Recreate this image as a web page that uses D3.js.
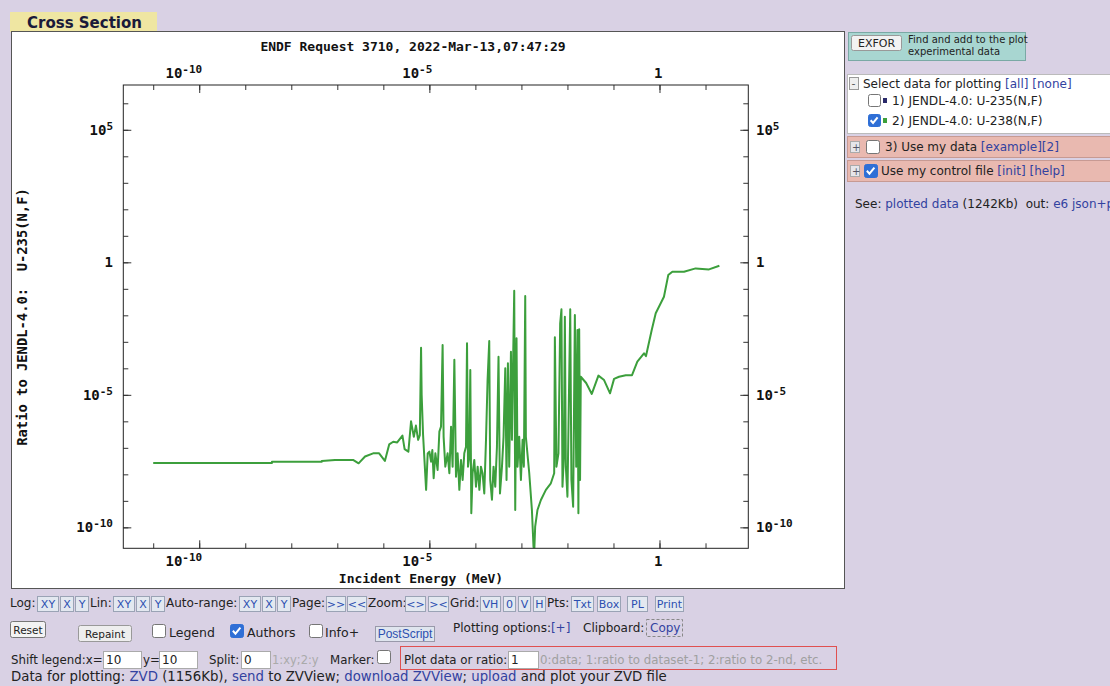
<!DOCTYPE html>
<html>
<head>
<meta charset="utf-8">
<script src="https://cdn.jsdelivr.net/npm/d3@7"></script>
<style>
body { margin: 0; background: #d9d1e4; }
svg { display: block; }
</style>
</head>
<body>
<svg width="1110" height="686"></svg>
<script>
// U-238(n,f) / U-235(n,f) ratio, JENDL-4.0
var energy = [
  1.0e-11, 3.8e-9, 3.8e-9, 4.6e-8, 4.6e-8, 8.9e-8, 2.2e-7, 2.9e-7, 4.0e-7, 6.0e-7,
  8.1e-7, 1.08e-6, 1.34e-6, 1.64e-6, 2.0e-6, 2.6e-6, 2.9e-6, 3.5e-6, 4.0e-6, 4.6e-6,
  5.1e-6, 5.7e-6, 6.2e-6, 6.6e-6, 6.8e-6, 7.3e-6,
  8.5e-6, 9.2e-6, 1.0e-5, 1.09e-5, 1.16e-5, 1.24e-5, 1.35e-5, 1.51e-5, 1.65e-5, 1.79e-5,
  1.94e-5, 2.04e-5, 2.22e-5, 2.49e-5, 2.72e-5, 2.96e-5, 3.2e-5, 3.49e-5, 3.79e-5, 4.11e-5,
  4.48e-5, 4.87e-5, 5.28e-5, 5.74e-5, 6.25e-5, 6.58e-5, 6.91e-5, 7.38e-5, 7.75e-5, 8.15e-5,
  8.7e-5, 9.46e-5, 1.03e-4, 1.12e-4, 1.22e-4, 1.32e-4, 1.43e-4, 1.56e-4, 1.7e-4, 1.84e-4,
  2.0e-4, 2.1e-4, 2.29e-4, 2.48e-4, 2.7e-4, 2.94e-4, 3.18e-4, 3.42e-4, 3.78e-4, 4.09e-4,
  4.46e-4, 4.75e-4, 5.09e-4, 5.43e-4, 5.92e-4, 6.22e-4, 6.64e-4, 6.98e-4, 7.34e-4, 7.83e-4,
  8.22e-4, 8.96e-4, 9.75e-4, 1.06e-3, 1.13e-3, 1.21e-3, 1.25e-3, 1.48e-3, 1.69e-3, 1.83e-3,
  1.9e-3, 1.99e-3, 2.23e-3, 2.65e-3, 3.4e-3, 4.36e-3, 5.15e-3, 5.33e-3, 5.77e-3, 6.38e-3,
  6.95e-3, 7.41e-3, 7.8e-3, 8.36e-3, 8.79e-3, 9.23e-3, 1.0e-2, 1.09e-2, 1.15e-2, 1.22e-2,
  1.33e-2, 1.45e-2, 1.55e-2, 1.65e-2, 1.73e-2, 1.8e-2, 1.88e-2, 1.95e-2, 2.55e-2, 3.38e-2,
  4.71e-2, 6.25e-2, 8.43e-2, 0.103, 0.132, 0.185, 0.253, 0.33, 0.461, 0.509,
  0.678, 0.828, 1.25, 1.55, 1.9, 3.4, 6.1, 11.9, 20
];
var ratio = [
  2.7e-8, 2.7e-8, 3.0e-8, 3.0e-8, 3.2e-8, 3.5e-8, 3.5e-8, 2.6e-8, 4.7e-8, 6.2e-8,
  6.2e-8, 3.2e-8, 1.35e-7, 1.7e-7, 1.6e-7, 2.9e-7, 8.9e-8, 7.2e-8, 1.0e-6, 2.6e-7,
  6.9e-7, 2.0e-7, 3.0e-7, 6.0e-4, 1.0e-5, 3.1e-7,
  2.6e-9, 6.2e-8, 7.2e-8, 3.0e-8, 8.3e-8, 7.1e-9, 6.2e-8, 1.46e-8, 4.1e-7, 6.3e-7,
  7.6e-4, 2.6e-7, 1.95e-8, 6.2e-8, 1.1e-8, 6.3e-7, 1.95e-8, 2.1e-4, 8.2e-9, 6.2e-8,
  2.6e-9, 3.5e-8, 6.1e-9, 6.2e-8, 1.1e-7, 8.8e-4, 1.95e-8, 4.65e-8, 8.7e-5, 3.4e-10,
  1.1e-8, 3.5e-8, 3.4e-9, 1.95e-8, 2.6e-9, 1.95e-8, 1.1e-8, 1.9e-9, 2.0e-7, 3.6e-5,
  1.07e-3, 6.1e-9, 1.1e-9, 1.95e-8, 3.4e-9, 1.1e-7, 2.75e-4, 1.9e-9, 1.95e-8, 2.6e-7,
  1.0e-4, 6.1e-9, 1.55e-4, 1.95e-8, 4.25e-4, 2.0e-7, 3.7e-4, 8.5e-2, 4.5e-10, 1.36e-3,
  1.95e-8, 2.6e-7, 6.1e-9, 2.0e-7, 1.95e-8, 5.4e-2, 2.6e-7, 1.1e-8, 4.5e-10, 1.9e-11,
  1.2e-11, 1.06e-10, 4.5e-10, 1.08e-9, 2.6e-9, 4.6e-9, 1.1e-8, 1.48e-3, 1.95e-8, 6.2e-8,
  5.0e-3, 1.69e-2, 3.4e-9, 4.65e-8, 8.9e-3, 1.95e-8, 1.44e-9, 3.6e-5, 1.69e-2, 6.1e-9,
  6.0e-10, 1.03e-2, 1.95e-8, 2.8e-3, 3.4e-10, 3.0e-3, 6.1e-9, 4.8e-5, 2.8e-5, 1.08e-5,
  5.3e-5, 3.6e-5, 1.14e-5, 4.0e-5, 4.8e-5, 5.5e-5, 5.5e-5, 1.78e-4, 3.7e-4, 2.9e-4,
  2.8e-3, 1.19e-2, 5.0e-2, 0.33, 0.44, 0.44, 0.59, 0.54, 0.74
];

var xDomain = [2.24e-12, 85];
var yDomain = [1.62e-11, 4.9e6];
var xTicks = [1e-11, 1e-10, 1e-9, 1e-8, 1e-7, 1e-6, 1e-5, 1e-4, 1e-3, 1e-2, 1e-1, 1, 10];
var xMajor = [1e-10, 1e-5, 1];
var xMajorLabels = [['10', '-10'], ['10', '-5'], ['1', '']];
var yTicks = [1e-10, 1e-9, 1e-8, 1e-7, 1e-6, 1e-5, 1e-4, 1e-3, 1e-2, 1e-1, 1, 10, 1e2, 1e3, 1e4, 1e5, 1e6];
var yMajor = [1e-10, 1e-5, 1, 1e5];
var yMajorLabels = [['10', '-10'], ['10', '-5'], ['1', ''], ['10', '5']];

var datasets = ['1) JENDL-4.0: U-235(N,F)', '2) JENDL-4.0: U-238(N,F)'];
var datasetColors = ['#2a2a6a', '#3c9f3c'];
var datasetChecked = [false, true];

var svg = d3.select('svg');
var ui = 'DejaVu Sans';
var mono = 'DejaVu Sans Mono';
var linkColor = '#3242a0';
var textColor = '#222';

// ---------- helpers ----------
function txt(x, y, parts, size, family) {
  var t = svg.append('text')
    .attr('x', x)
    .attr('y', y)
    .attr('font-family', family || ui)
    .attr('font-size', size || 11);
  parts.forEach(function (p) {
    if (typeof p === 'string') p = [p, textColor];
    t.append('tspan').attr('fill', p[1]).text(p[0]);
  });
  return t;
}

function button(x, y, w, h, label, opts) {
  opts = opts || {};
  svg.append('rect')
    .attr('x', x + 0.5).attr('y', y + 0.5)
    .attr('width', w).attr('height', h)
    .attr('rx', opts.rx || 0)
    .attr('fill', opts.fill || '#e3e8f0')
    .attr('stroke', opts.stroke || '#9aa3b5');
  svg.append('text')
    .attr('x', x + w / 2 + 0.5)
    .attr('y', y + h / 2 + 4.5)
    .attr('text-anchor', 'middle')
    .attr('font-family', opts.family || ui)
    .attr('font-size', opts.size || 11)
    .attr('fill', opts.color || '#2c4fb0')
    .text(label);
}

function checkbox(x, y, s, checked) {
  svg.append('rect')
    .attr('x', x + 0.5).attr('y', y + 0.5)
    .attr('width', s).attr('height', s)
    .attr('rx', 2)
    .attr('fill', checked ? '#2f6fd6' : '#fff')
    .attr('stroke', checked ? '#2f6fd6' : '#767676');
  if (checked) {
    svg.append('path')
      .attr('d', 'M' + (x + s * 0.22) + ',' + (y + s * 0.52) +
        'L' + (x + s * 0.42) + ',' + (y + s * 0.74) +
        'L' + (x + s * 0.8) + ',' + (y + s * 0.28))
      .attr('fill', 'none')
      .attr('stroke', '#fff')
      .attr('stroke-width', 2);
  }
}

function input(x, y, w, h, value) {
  svg.append('rect')
    .attr('x', x + 0.5).attr('y', y + 0.5)
    .attr('width', w).attr('height', h)
    .attr('fill', '#fff')
    .attr('stroke', '#aaa');
  txt(x + 3, y + h - 4, [value], 12);
}

// ---------- page frame ----------
svg.append('rect').attr('width', 1110).attr('height', 686).attr('fill', '#d9d1e4');
svg.append('rect')
  .attr('x', 10).attr('y', 12).attr('width', 147).attr('height', 20)
  .attr('fill', '#efe6a2');
txt(27, 28, [['Cross Section', '#1a1a3a']], 15).attr('font-weight', 'bold');

svg.append('rect')
  .attr('x', 11.5).attr('y', 31.5).attr('width', 833).attr('height', 557)
  .attr('fill', '#fff')
  .attr('stroke', '#555');

// ---------- chart ----------
var x = d3.scaleLog().domain(xDomain).range([123.3, 748.3]);
var y = d3.scaleLog().domain(yDomain).range([548.3, 85]);

svg.append('clipPath').attr('id', 'plotclip')
  .append('rect')
  .attr('x', x.range()[0]).attr('y', y.range()[1])
  .attr('width', x.range()[1] - x.range()[0])
  .attr('height', y.range()[0] - y.range()[1]);

var points = energy.map(function (e, i) {
  return { e: e, r: ratio[i] };
});
var line = d3.line()
  .x(function (d) { return x(d.e); })
  .y(function (d) { return y(d.r); });

svg.append('path')
  .datum(points)
  .attr('clip-path', 'url(#plotclip)')
  .attr('d', line)
  .attr('fill', 'none')
  .attr('stroke', '#3c9f3c')
  .attr('stroke-width', 2)
  .attr('stroke-linejoin', 'round');

function axisGroup(transform, axis) {
  var g = svg.append('g').attr('transform', transform).call(axis);
  g.select('.domain').remove();
  g.selectAll('line').attr('stroke', '#333');
  return g;
}
var x0 = x.range()[0], x1 = x.range()[1];
var yb = y.range()[0], yt = y.range()[1];
axisGroup('translate(0,' + yb + ')', d3.axisBottom(x).tickValues(xTicks).tickSize(-5).tickFormat(''));
axisGroup('translate(0,' + yb + ')', d3.axisBottom(x).tickValues(xMajor).tickSize(-8).tickFormat(''));
axisGroup('translate(0,' + yt + ')', d3.axisTop(x).tickValues(xTicks).tickSize(-5).tickFormat(''));
axisGroup('translate(0,' + yt + ')', d3.axisTop(x).tickValues(xMajor).tickSize(-8).tickFormat(''));
axisGroup('translate(' + x0 + ',0)', d3.axisLeft(y).tickValues(yTicks).tickSize(-5).tickFormat(''));
axisGroup('translate(' + x0 + ',0)', d3.axisLeft(y).tickValues(yMajor).tickSize(-8).tickFormat(''));
axisGroup('translate(' + x1 + ',0)', d3.axisRight(y).tickValues(yTicks).tickSize(-5).tickFormat(''));
axisGroup('translate(' + x1 + ',0)', d3.axisRight(y).tickValues(yMajor).tickSize(-8).tickFormat(''));

svg.append('rect')
  .attr('x', x0).attr('y', yt)
  .attr('width', x1 - x0).attr('height', yb - yt)
  .attr('fill', 'none')
  .attr('stroke', '#222');

function powLabel(px, py, anchor, lab) {
  var t = svg.append('text')
    .attr('x', px).attr('y', py)
    .attr('text-anchor', anchor)
    .attr('font-family', mono)
    .attr('font-weight', 'bold')
    .attr('font-size', 14)
    .attr('fill', '#111');
  t.append('tspan').text(lab[0]);
  if (lab[1]) {
    t.append('tspan').attr('dy', -5).attr('font-size', 11).text(lab[1]);
  }
}
xMajor.forEach(function (v, i) {
  powLabel(x(v) + 3, 566, 'end', xMajorLabels[i]);
  powLabel(x(v) + 3, 78, 'end', xMajorLabels[i]);
});
yMajor.forEach(function (v, i) {
  powLabel(113, y(v) + 5, 'end', yMajorLabels[i]);
  powLabel(756, y(v) + 5, 'start', yMajorLabels[i]);
});

svg.append('text')
  .attr('x', 413).attr('y', 51)
  .attr('text-anchor', 'middle')
  .attr('font-family', mono).attr('font-weight', 'bold').attr('font-size', 13)
  .attr('fill', '#111')
  .text('ENDF Request 3710, 2022-Mar-13,07:47:29');
svg.append('text')
  .attr('x', 421).attr('y', 583)
  .attr('text-anchor', 'middle')
  .attr('font-family', mono).attr('font-weight', 'bold').attr('font-size', 13)
  .attr('fill', '#111')
  .text('Incident Energy (MeV)');
svg.append('text')
  .attr('transform', 'translate(27,317) rotate(-90)')
  .attr('text-anchor', 'middle')
  .attr('font-family', mono).attr('font-weight', 'bold').attr('font-size', 13.8)
  .attr('fill', '#111')
  .attr('xml:space', 'preserve')
  .text('Ratio to JENDL-4.0:  U-235(N,F)');

// ---------- right panel ----------
svg.append('rect')
  .attr('x', 848.5).attr('y', 32.5).attr('width', 177).attr('height', 28)
  .attr('fill', '#a8d6d1').attr('stroke', '#7aa9a5');
button(851, 35, 50, 15, 'EXFOR', { fill: '#f2f2f2', stroke: '#999', color: '#222', rx: 2 });
txt(908, 43, ['Find and add to the plot'], 10);
txt(908, 55, ['experimental data'], 10);

svg.append('rect')
  .attr('x', 847.5).attr('y', 74.5).attr('width', 270).attr('height', 59)
  .attr('fill', '#fff').attr('stroke', '#bbb');
svg.append('rect')
  .attr('x', 849.5).attr('y', 77.5).attr('width', 9).attr('height', 12)
  .attr('fill', '#eee').attr('stroke', '#999');
txt(851.5, 87, [['-', '#555']], 11);
txt(863, 88, ['Select data for plotting ', ['[all] [none]', linkColor]], 12);
datasets.forEach(function (d, i) {
  var ry = 94 + i * 20;
  checkbox(868, ry, 12, datasetChecked[i]);
  svg.append('rect')
    .attr('x', 883).attr('y', ry + 4).attr('width', 4).attr('height', 5)
    .attr('fill', datasetColors[i]);
  txt(892, ry + 11, [d], 12.2);
});

[[136, false, '3) Use my data ', '[example][2]', 885],
 [160, true, 'Use my control file ', '[init] [help]', 881]].forEach(function (r) {
  svg.append('rect')
    .attr('x', 847.5).attr('y', r[0] + 0.5).attr('width', 270).attr('height', 21)
    .attr('fill', '#e9b9b0').attr('stroke', '#c79a93');
  svg.append('rect')
    .attr('x', 850.5).attr('y', r[0] + 5.5).attr('width', 9).attr('height', 11)
    .attr('fill', '#e6e6ea').attr('stroke', '#aaa');
  txt(852, r[0] + 15, [['+', '#556']], 10);
  checkbox(r[1] ? 864 : 866, r[0] + 4, 13, r[1]);
  txt(r[4], r[0] + 15, [r[2], [r[3], linkColor]], 12);
});
txt(855, 208, ['See: ', ['plotted data', linkColor], ' (1242Kb)  out: ', ['e6 json+p', linkColor]], 12)
  .attr('xml:space', 'preserve');

// ---------- controls under the chart ----------
var row1 = [
  ['t', 10, 'Log:'], ['b', 37, 21, 'XY'], ['b', 60, 13, 'X'], ['b', 75, 13, 'Y'],
  ['t', 90, 'Lin:'], ['b', 113, 21, 'XY'], ['b', 136, 13, 'X'], ['b', 151, 13, 'Y'],
  ['t', 166, 'Auto-range:'], ['b', 239, 21, 'XY'], ['b', 262, 13, 'X'], ['b', 277, 13, 'Y'],
  ['t', 292, 'Page:'], ['b', 326, 19, '>>'], ['b', 347, 19, '<<'],
  ['t', 368, 'Zoom:'], ['b', 405, 20, '<>'], ['b', 428, 20, '><'],
  ['t', 450, 'Grid:'], ['b', 480, 20, 'VH'], ['b', 503, 12, '0'], ['b', 518, 12, 'V'], ['b', 533, 12, 'H'],
  ['t', 547, 'Pts:'], ['b', 571, 22, 'Txt'], ['b', 597, 23, 'Box'], ['b', 627, 20, 'PL'], ['b', 655, 28, 'Print']
];
row1.forEach(function (it) {
  if (it[0] === 't') txt(it[1], 607, [it[2]], 12);
  else button(it[1], 596, it[2], 15, it[3], { size: 11 });
});

button(10, 621, 35, 16, 'Reset', { fill: '#f3f3f3', stroke: '#777', color: '#222', size: 10.5, rx: 2 });
button(78, 625, 53, 16, 'Repaint', { fill: '#eee', stroke: '#999', color: '#222', size: 10.5, rx: 2 });
checkbox(152, 624, 13, false);
txt(169, 637, ['Legend'], 12.5);
checkbox(230, 624, 13, true);
txt(247, 637, ['Authors'], 12.5);
checkbox(309, 624, 13, false);
txt(325, 637, ['Info+'], 12.5);
button(375, 626, 59, 15, 'PostScript', { family: 'Liberation Sans', size: 12, fill: '#dfe5ee', stroke: '#99a' });
txt(453, 632, ['Plotting options:', ['[+]', linkColor]], 12);
txt(583, 632, ['Clipboard: '], 12);
svg.append('rect')
  .attr('x', 646.5).attr('y', 619.5).attr('width', 36).attr('height', 17)
  .attr('fill', 'none').attr('stroke', '#888').attr('stroke-dasharray', '3,2');
txt(650, 632, [['Copy', linkColor]], 12);

txt(11, 664, ['Shift legend:x='], 11.8);
input(103, 651, 38, 17, '10');
txt(143, 664, ['y='], 11.8);
input(159, 651, 38, 17, '10');
txt(209, 664, ['Split:'], 11.8);
input(241, 651, 29, 17, '0');
txt(272, 664, [['1:xy;2:y', '#aaa']], 11.5);
txt(330, 664, ['Marker:'], 11.8);
checkbox(377, 650, 13, false);
svg.append('rect')
  .attr('x', 400.5).attr('y', 646.5).attr('width', 436).attr('height', 23)
  .attr('fill', 'none').attr('stroke', '#e05050');
txt(404, 664, ['Plot data or ratio:'], 11.8);
input(508, 651, 30, 17, '1');
txt(540, 664, [['0:data; 1:ratio to dataset-1; 2:ratio to 2-nd, etc.', '#a0a0a0']], 11.8);

txt(11, 681, [
  'Data for plotting: ', ['ZVD', linkColor], ' (1156Kb), ', ['send', linkColor],
  ' to ZVView; ', ['download ZVView', linkColor], '; ', ['upload', linkColor],
  ' and plot your ZVD file'
], 13.3);
</script>
</body>
</html>
